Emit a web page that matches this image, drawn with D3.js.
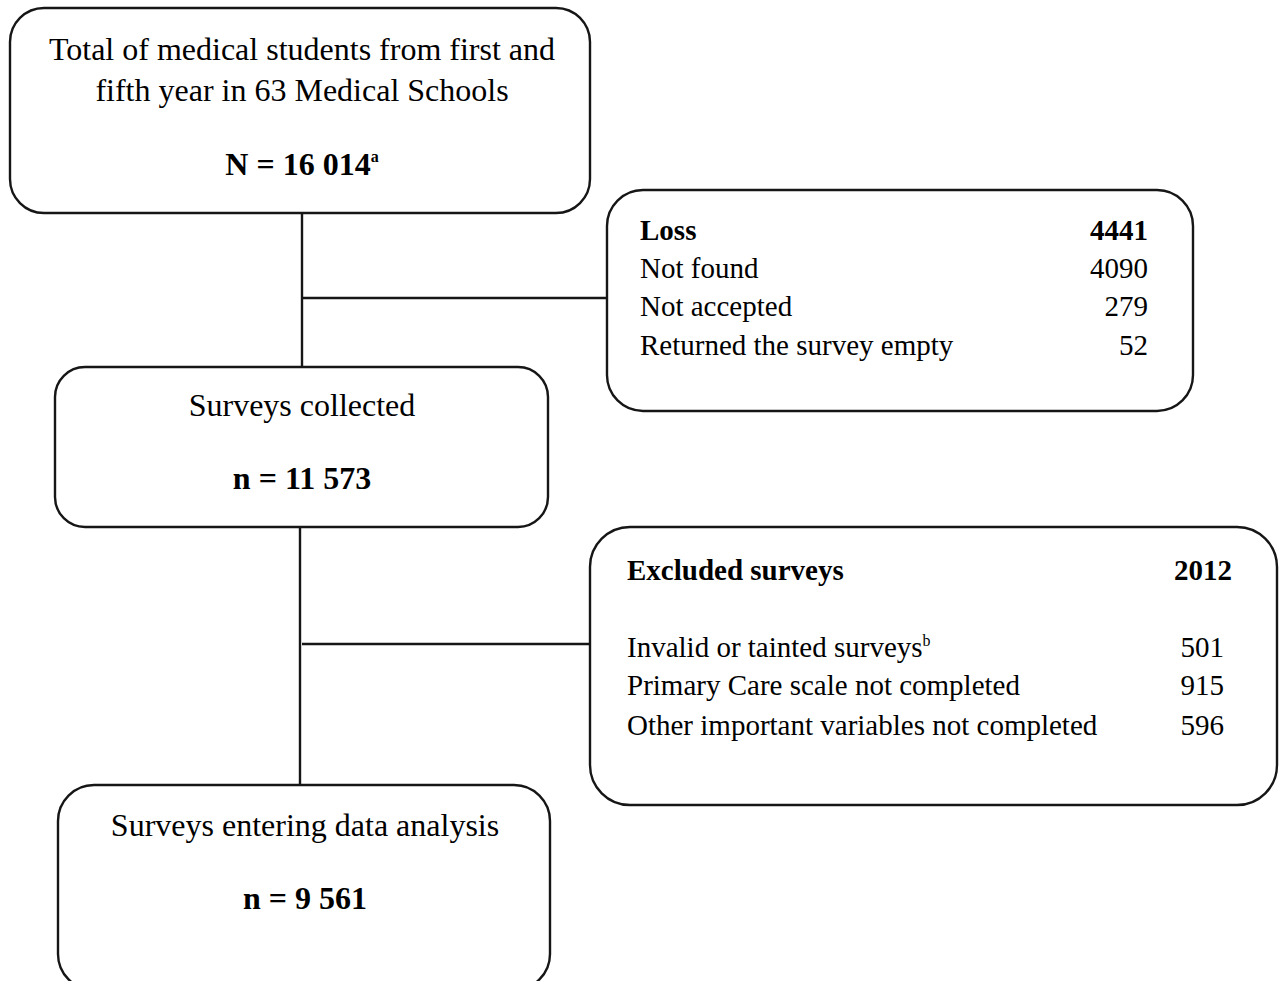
<!DOCTYPE html>
<html><head><meta charset="utf-8">
<script src="https://cdn.jsdelivr.net/npm/d3@7"></script>
<style>html,body{margin:0;padding:0;background:#fff;overflow:hidden}</style>
</head><body>
<svg id="c" width="1280" height="981"></svg>
<script>
// ---- data ----
const mainTitles = [
  ["Total of medical students from first and", "fifth year in 63 Medical Schools"],
  ["Surveys collected"],
  ["Surveys entering data analysis"]
];
const mainCounts = ["N = 16 014", "n = 11 573", "n = 9 561"];
const mainSup = ["a", "", ""];
const lossTitle = "Loss";
const lossTotal = 4441;
const lossItems = ["Not found", "Not accepted", "Returned the survey empty"];
const lossValues = [4090, 279, 52];
const exclTitle = "Excluded surveys";
const exclTotal = 2012;
const exclItems = ["Invalid or tainted surveys", "Primary Care scale not completed", "Other important variables not completed"];
const exclSup = ["b", "", ""];
const exclValues = [501, 915, 596];

// ---- layout ----
const svg = d3.select("#c");
const FONT = "'Liberation Serif','Times New Roman',serif";
const stroke = "#161616";
const mainBoxes = [
  {x: 10, y: 8, w: 580, h: 205, r: 34, cx: 302, lines: [60, 101], count: 175},
  {x: 55, y: 367, w: 493, h: 160, r: 30, cx: 302, lines: [416], count: 489},
  {x: 58, y: 785, w: 492, h: 205, r: 36, cx: 305, lines: [836], count: 909}
];
const sideBoxes = [
  {x: 607, y: 190, w: 586, h: 221, r: 36, tx: 640, nx: 1148, head: 240, rows: [278, 316, 355], numx: 1148},
  {x: 590, y: 527, w: 687, h: 278, r: 40, tx: 627, nx: 1232, head: 580, rows: [657, 695, 735], numx: 1224}
];

// connectors
const conn = [
  [[302, 213], [302, 367]],
  [[302, 298], [607, 298]],
  [[300, 527], [300, 785]],
  [[302, 644], [590, 644]]
];
const line = d3.line();
svg.selectAll("path.conn").data(conn).join("path")
  .attr("class", "conn").attr("d", line)
  .attr("stroke", stroke).attr("stroke-width", 2.4).attr("fill", "none");

// boxes
svg.selectAll("rect.main").data(mainBoxes).join("rect")
  .attr("class", "main")
  .attr("x", d => d.x).attr("y", d => d.y).attr("width", d => d.w).attr("height", d => d.h)
  .attr("rx", d => d.r).attr("ry", d => d.r)
  .attr("fill", "#fff").attr("stroke", stroke).attr("stroke-width", 2.4);
svg.selectAll("rect.side").data(sideBoxes).join("rect")
  .attr("class", "side")
  .attr("x", d => d.x).attr("y", d => d.y).attr("width", d => d.w).attr("height", d => d.h)
  .attr("rx", d => d.r).attr("ry", d => d.r)
  .attr("fill", "#fff").attr("stroke", stroke).attr("stroke-width", 2.4);

const FS = 32;   // main boxes
const FS2 = 29;  // side boxes
// main box text
mainBoxes.forEach((b, i) => {
  mainTitles[i].forEach((t, j) => {
    svg.append("text").attr("x", b.cx).attr("y", b.lines[j])
      .attr("text-anchor", "middle").attr("font-family", FONT).attr("font-size", FS)
      .attr("fill", "#000").text(t);
  });
  const ct = svg.append("text").attr("x", b.cx).attr("y", b.count)
    .attr("text-anchor", "middle").attr("font-family", FONT).attr("font-size", FS)
    .attr("font-weight", "bold").attr("fill", "#000");
  ct.append("tspan").text(mainCounts[i]);
  if (mainSup[i]) ct.append("tspan").attr("font-size", FS * 0.5).attr("dy", -13).text(mainSup[i]);
});

// side boxes
const sideData = [
  {title: lossTitle, total: lossTotal, items: lossItems, values: lossValues, sups: ["", "", ""]},
  {title: exclTitle, total: exclTotal, items: exclItems, values: exclValues, sups: exclSup}
];
sideBoxes.forEach((b, i) => {
  const d = sideData[i];
  svg.append("text").attr("x", b.tx).attr("y", b.head).attr("font-family", FONT)
    .attr("font-size", FS2).attr("font-weight", "bold").text(d.title);
  svg.append("text").attr("x", b.nx).attr("y", b.head).attr("font-family", FONT)
    .attr("font-size", FS2).attr("font-weight", "bold").attr("text-anchor", "end").text(d.total);
  d.items.forEach((it, j) => {
    const t = svg.append("text").attr("x", b.tx).attr("y", b.rows[j]).attr("font-family", FONT)
      .attr("font-size", FS2);
    t.append("tspan").text(it);
    if (d.sups[j]) t.append("tspan").attr("font-size", FS2 * 0.55).attr("dy", -11).text(d.sups[j]);
    svg.append("text").attr("x", b.numx).attr("y", b.rows[j]).attr("font-family", FONT)
      .attr("font-size", FS2).attr("text-anchor", "end").text(d.values[j]);
  });
});
</script>
</body></html>
